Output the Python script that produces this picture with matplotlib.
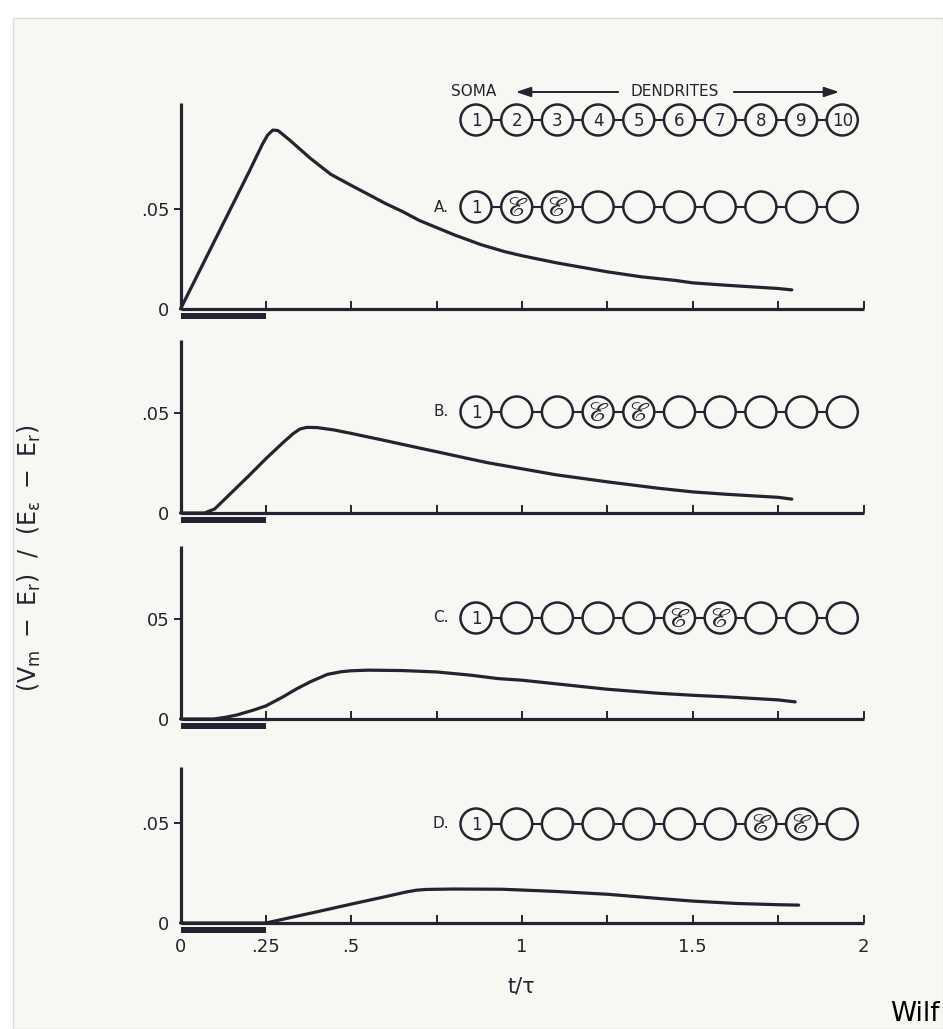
import numpy as np
import matplotlib
matplotlib.use("Agg")
import matplotlib.pyplot as plt
from matplotlib.patches import Ellipse, Rectangle

# curves: t/tau and (Vm-Er)/(Ee-Er)
tA = [0, 0.1, 0.2, 0.22, 0.24, 0.255, 0.27, 0.285, 0.3, 0.32, 0.35, 0.38, 0.41, 0.44, 0.5, 0.55, 0.6, 0.65,
      0.7, 0.75, 0.8, 0.88, 0.95, 1.0, 1.1, 1.25, 1.35, 1.45, 1.5, 1.6, 1.75, 1.79]
vA = [0, 0.034, 0.068, 0.075, 0.082, 0.0865, 0.089, 0.0888, 0.0868, 0.084, 0.0795, 0.075, 0.071, 0.067, 0.0615,
      0.057, 0.0525, 0.0485, 0.044, 0.0405, 0.037, 0.032, 0.0285, 0.0265, 0.023, 0.0185, 0.016, 0.0142, 0.013,
      0.0118, 0.0102, 0.0095]

tB = [0, 0.07, 0.1, 0.14, 0.2, 0.25, 0.3, 0.33, 0.35, 0.37, 0.4, 0.45, 0.5, 0.6, 0.7, 0.75, 0.85, 0.9, 1.0,
      1.1, 1.25, 1.4, 1.5, 1.6, 1.75, 1.79]
vB = [0, 0, 0.002, 0.0086, 0.0185, 0.027, 0.035, 0.0395, 0.0418, 0.0426, 0.0425, 0.0413, 0.0396, 0.036, 0.0323,
      0.0305, 0.0268, 0.025, 0.022, 0.019, 0.0155, 0.0123, 0.0105, 0.0093, 0.0078, 0.0069]

tC = [0, 0.097, 0.13, 0.165, 0.215, 0.25, 0.3, 0.34, 0.38, 0.43, 0.47, 0.5, 0.55, 0.65, 0.75, 0.85, 0.93, 1.0,
      1.1, 1.25, 1.4, 1.5, 1.6, 1.75, 1.8]
vC = [0, 0, 0.0008, 0.002, 0.0045, 0.0065, 0.011, 0.015, 0.0185, 0.0222, 0.0235, 0.024, 0.0243, 0.0241, 0.0234,
      0.0218, 0.0201, 0.0193, 0.0175, 0.0148, 0.0128, 0.0118, 0.011, 0.0095, 0.0085]

tD = [0, 0.25, 0.4, 0.5, 0.6, 0.66, 0.69, 0.72, 0.8, 0.94, 1.0, 1.1, 1.25, 1.4, 1.5, 1.63, 1.75, 1.81]
vD = [0, 0, 0.0056, 0.0094, 0.0131, 0.0154, 0.0163, 0.0167, 0.0169, 0.0168, 0.0164, 0.0157, 0.0143, 0.0122,
      0.0109, 0.0097, 0.0091, 0.0089]

curves = [(tA, vA), (tB, vB), (tC, vC), (tD, vD)]
panel_names = ["A.", "B.", "C.", "D."]
axis_tops = [0.1025, 0.086, 0.086, 0.0775]
ytick_text = [".05", ".05", "05", ".05"]
excited = [[2, 3], [4, 5], [6, 7], [8, 9]]
compartments = list(range(1, 11))

xticks = [0, 0.25, 0.5, 0.75, 1.0, 1.25, 1.5, 1.75, 2.0]
xtick_text = ["0", ".25", ".5", "", "1", "", "1.5", "", "2"]
pulse = (0, 0.25)

ink = "#25232f"
paper = "#f8f7f3"
W, H = 943, 1029

fig = plt.figure(figsize=(W / 100, H / 100), dpi=100)
fig.patch.set_facecolor("white")
fig.patches.append(Rectangle((13 / W, 0), (W - 13) / W, (H - 18) / H, transform=fig.transFigure,
                             facecolor=paper, edgecolor="#d9d9d9", lw=1, zorder=-10))

zero_px = [309, 513, 719, 923]
ppu = 2010.0  # pixels per unit of y
x0px, x1px = 180.5, 863.5

for i, (t, v) in enumerate(curves):
    y0 = zero_px[i]
    ax = fig.add_axes([x0px / W, (H - y0 - 15) / H, (x1px - x0px) / W, 230 / H])
    ax.set_facecolor("none")
    ax.set_xlim(0, 2)
    ax.set_ylim(-15 / ppu, 215 / ppu)
    ax.plot(t, v, color=ink, lw=2.3, solid_capstyle="round", solid_joinstyle="round", clip_on=False)
    # stimulus bar under the axis
    ax.fill_between(pulse, -0.0022, -0.0048, color=ink, lw=0)
    for s in ["top", "right"]:
        ax.spines[s].set_visible(False)
    for s in ["left", "bottom"]:
        ax.spines[s].set_linewidth(2.3)
        ax.spines[s].set_color(ink)
        ax.spines[s].set_capstyle("butt")
    ax.spines["bottom"].set_position(("data", 0))
    ax.spines["left"].set_bounds(0, axis_tops[i])
    ax.spines["bottom"].set_bounds(0, 2)
    ax.set_xticks(xticks)
    ax.tick_params(axis="x", direction="in", length=6, width=1.4, color=ink, pad=11,
                   labelsize=13, labelcolor=ink)
    if i == 3:
        ax.set_xticklabels(xtick_text)
    else:
        ax.set_xticklabels([])
    ax.set_yticks([0, 0.05])
    ax.set_yticklabels(["0", ytick_text[i]])
    ax.tick_params(axis="y", direction="out", length=5, width=1.4, color=ink, pad=3,
                   labelsize=13, labelcolor=ink)
    ax.yaxis.get_major_ticks()[0].tick1line.set_visible(False)

# overlay in pixel coordinates for the compartment diagrams and labels
ov = fig.add_axes([0, 0, 1, 1])
ov.set_xlim(0, W)
ov.set_ylim(H, 0)
ov.axis("off")
ov.patch.set_alpha(0)

cx0, dx = 476, 40.7
rw, rh = 31, 31


def chain(y, labels):
    xs = [cx0 + (c - 1) * dx for c in compartments]
    ov.plot([xs[0], xs[-1]], [y, y], color=ink, lw=1.5, zorder=1)
    for x, lab in zip(xs, labels):
        ov.add_patch(Ellipse((x, y), rw, rh, facecolor=paper, edgecolor=ink, lw=1.8, zorder=2))
        if lab == "E":
            ov.text(x, y + 1, r"$\mathscr{E}$", math_fontfamily="stix", fontsize=20,
                    ha="center", va="center", color=ink, zorder=3)
        elif lab:
            ov.text(x, y + 1, lab, fontsize=12, ha="center", va="center", color=ink, zorder=3)


chain(120, [str(c) for c in compartments])
ov.text(474, 92, "SOMA", fontsize=11, ha="center", va="center", color=ink)
ov.text(675, 92, "DENDRITES", fontsize=11, ha="center", va="center", color=ink)
ov.annotate("", xy=(513, 92), xytext=(621, 92),
            arrowprops=dict(arrowstyle="-|>,head_length=0.9,head_width=0.3", color=ink, lw=1.4))
ov.annotate("", xy=(842, 92), xytext=(731, 92),
            arrowprops=dict(arrowstyle="-|>,head_length=0.9,head_width=0.3", color=ink, lw=1.4))

row_y = [207, 412, 618, 824]
for i in range(4):
    labs = []
    for c in compartments:
        if c == 1:
            labs.append("1")
        elif c in excited[i]:
            labs.append("E")
        else:
            labs.append("")
    chain(row_y[i], labs)
    ov.text(449, row_y[i], panel_names[i], fontsize=11, ha="right", va="center", color=ink)

ov.text(29, 558, r"$(\mathrm{V_m}\ -\ \mathrm{E_r})\ \ /\ \ (\mathrm{E_\epsilon}\ -\ \mathrm{E_r})$",
        rotation=90, fontsize=17, ha="center", va="center", color=ink)
ov.text(521, 986, "t/τ", fontsize=15, ha="center", va="center", color=ink)
ov.text(940, 1027, "Wilf", fontsize=19, ha="right", va="bottom", color="black")

fig.savefig("out.png", dpi=100)
